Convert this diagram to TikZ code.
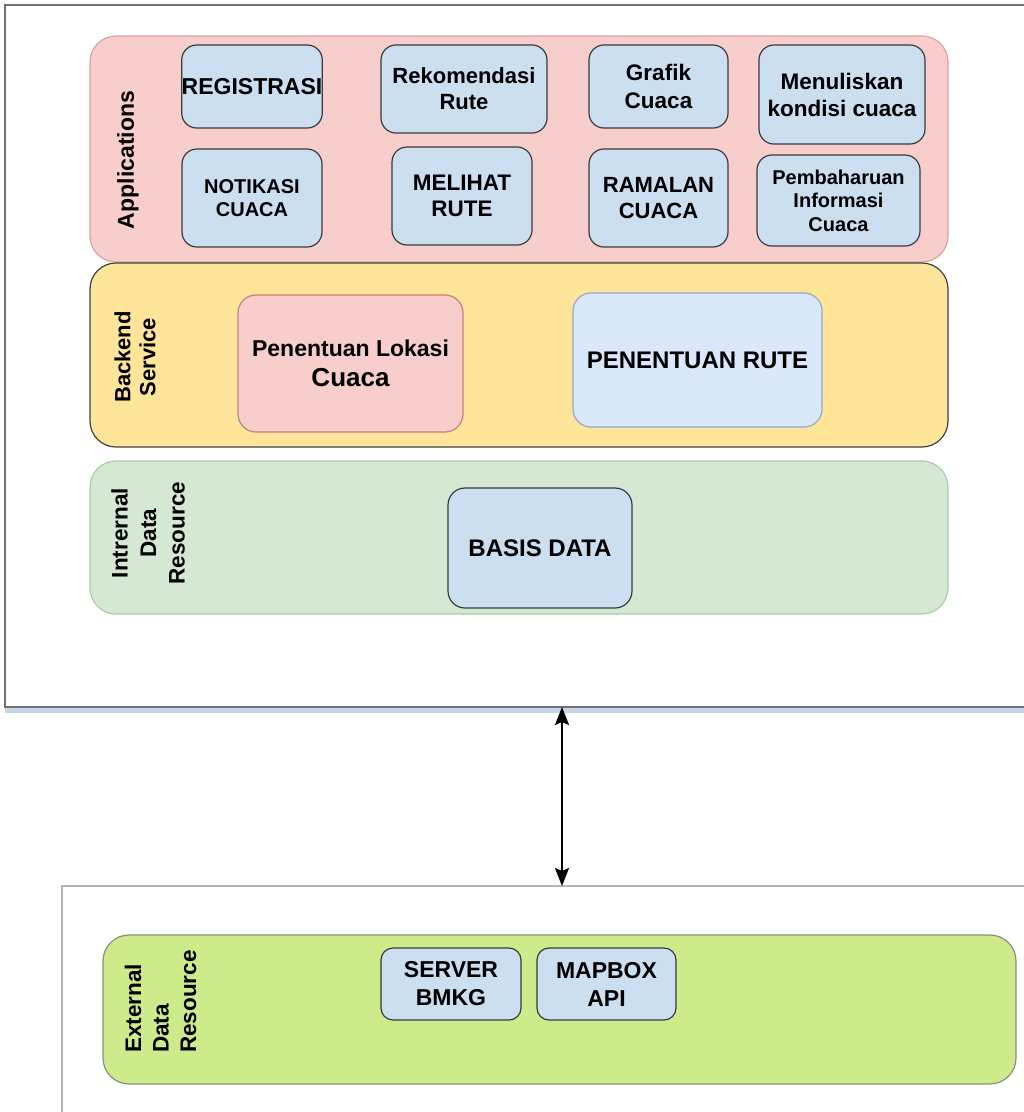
\documentclass[tikz,border=0pt]{standalone}
\usepackage{fontspec}
\setmainfont{Liberation Sans}
\usetikzlibrary{arrows.meta}

\definecolor{pinkfill}{HTML}{F8CECC}
\definecolor{pinkedge}{HTML}{D9A3A1}
\definecolor{appblue}{HTML}{CCDFF1}
\definecolor{boxedge}{HTML}{3A3A3A}
\definecolor{yellowfill}{HTML}{FFE599}
\definecolor{yellowedge}{HTML}{404040}
\definecolor{lokasiedge}{HTML}{C4827F}
\definecolor{rutefill}{HTML}{DAE8FC}
\definecolor{ruteedge}{HTML}{94A9C6}
\definecolor{greenfill}{HTML}{D5E8D4}
\definecolor{greenedge}{HTML}{A8CFA3}
\definecolor{limefill}{HTML}{CDEB8B}
\definecolor{limeedge}{HTML}{86917A}
\definecolor{framegray}{HTML}{707070}
\definecolor{framelight}{HTML}{B4B4B4}
\definecolor{bandblue}{HTML}{C6D6EA}

% bold text of a given size and line pitch
\newcommand{\boldsize}[2]{\bfseries\fontsize{#1}{#2}\selectfont}

\tikzset{
  layer/.style={rounded corners=26pt, line width=1.2pt, inner sep=0pt},
  applayer/.style={layer, draw=pinkedge, fill=pinkfill},
  backlayer/.style={layer, draw=yellowedge, fill=yellowfill},
  intlayer/.style={layer, draw=greenedge, fill=greenfill},
  extlayer/.style={layer, draw=limeedge, fill=limefill},
  modbox/.style={draw=boxedge, fill=appblue, rounded corners=15pt,
    line width=1.2pt, inner sep=0pt, align=center},
  lokasibox/.style={modbox, draw=lokasiedge, fill=pinkfill, rounded corners=18pt},
  rutebox/.style={modbox, draw=ruteedge, fill=rutefill, rounded corners=18pt},
  layerlabel/.style={rotate=90, inner sep=0pt},
  tsize/.style 2 args={font=\boldsize{#1}{#2}},
  arr/.style={line width=1.8pt, {Stealth[length=18pt,width=14pt,inset=3pt]}-{Stealth[length=18pt,width=14pt,inset=3pt]}}
}

\begin{document}
\begin{tikzpicture}[x=1pt, y=-1pt]
\useasboundingbox (0,0) rectangle (1024,1112);

% upper system frame
\fill[bandblue] (5,707) rectangle (1024,713);
\draw[framegray, line width=1.2pt] (1024,5) -- (5,5) -- (5,707) -- (1024,707);

% external system frame
\draw[framelight, line width=1.2pt] (1024,886) -- (62,886) -- (62,1112);

% layers
\node[applayer, minimum width=858, minimum height=226] (apps) at (519,149) {};
\node[backlayer, minimum width=858, minimum height=184] (backend) at (519,355) {};
\node[intlayer, minimum width=858, minimum height=153] (internal) at (519,537.5) {};
\node[extlayer, minimum width=913, minimum height=149] (external) at (559.5,1009.5) {};

% layer labels
\node[layerlabel, tsize={23}{27}] (appslabel) at (128,160) {Applications};
\node[layerlabel, align=center, tsize={22}{25}] (backlabel) at (135,357)
  {Backend\\Service};
\node[layerlabel, align=center, tsize={22.5}{28.5}] (intlabel) at (148,533)
  {Intrernal\\Data\\Resource};
\node[layerlabel, align=left, anchor=west, tsize={22.5}{27.5}] (extlabel) at (160.5,1053)
  {External\\Data\\Resource};

% application modules
\node[modbox, tsize={23}{27}, minimum width=140, minimum height=83] (registrasi) at (252,86.5)
  {REGISTRASI};
\node[modbox, tsize={20}{23}, minimum width=140, minimum height=98] (notikasi) at (252,198)
  {NOTIKASI\\CUACA};
\node[modbox, tsize={22}{26}, minimum width=166, minimum height=88] (rekomendasi) at (464,89)
  {Rekomendasi\\Rute};
\node[modbox, tsize={22.5}{26}, minimum width=140, minimum height=98] (melihat) at (462,196)
  {MELIHAT\\RUTE};
\node[modbox, tsize={22.5}{28}, minimum width=139, minimum height=83] (grafik) at (658.5,86.5)
  {Grafik\\Cuaca};
\node[modbox, tsize={22}{26}, minimum width=139, minimum height=98] (ramalan) at (658.5,198)
  {RAMALAN\\CUACA};
\node[modbox, tsize={22.5}{27}, minimum width=166, minimum height=99] (menuliskan) at (842,94.5)
  {Menuliskan\\kondisi cuaca};
\node[modbox, tsize={20}{23.5}, minimum width=163, minimum height=91] (pembaharuan) at (838.5,200.5)
  {Pembaharuan\\Informasi\\Cuaca};

% backend services
\node[lokasibox, tsize={23}{30}, minimum width=225, minimum height=137] (lokasi) at (350.5,363.5)
  {Penentuan Lokasi\\{\fontsize{26}{30}\selectfont Cuaca}};
\node[rutebox, tsize={24}{28}, minimum width=249, minimum height=134] (rute) at (697.5,360)
  {PENENTUAN RUTE};

% internal data
\node[modbox, tsize={24}{28}, rounded corners=17pt, minimum width=184, minimum height=120] (basis) at (540,548)
  {BASIS DATA};

% external data
\node[modbox, tsize={23}{28}, rounded corners=12pt, minimum width=140, minimum height=72] (server) at (451,984)
  {SERVER\\BMKG};
\node[modbox, tsize={23}{28}, rounded corners=12pt, minimum width=139, minimum height=72] (mapbox) at (606.5,984)
  {MAPBOX\\API};

% link between the two systems
\coordinate (sysbottom) at (562,707);
\coordinate (exttop) at (562,886);
\draw[arr] (sysbottom) -- (exttop);

\end{tikzpicture}
\end{document}
